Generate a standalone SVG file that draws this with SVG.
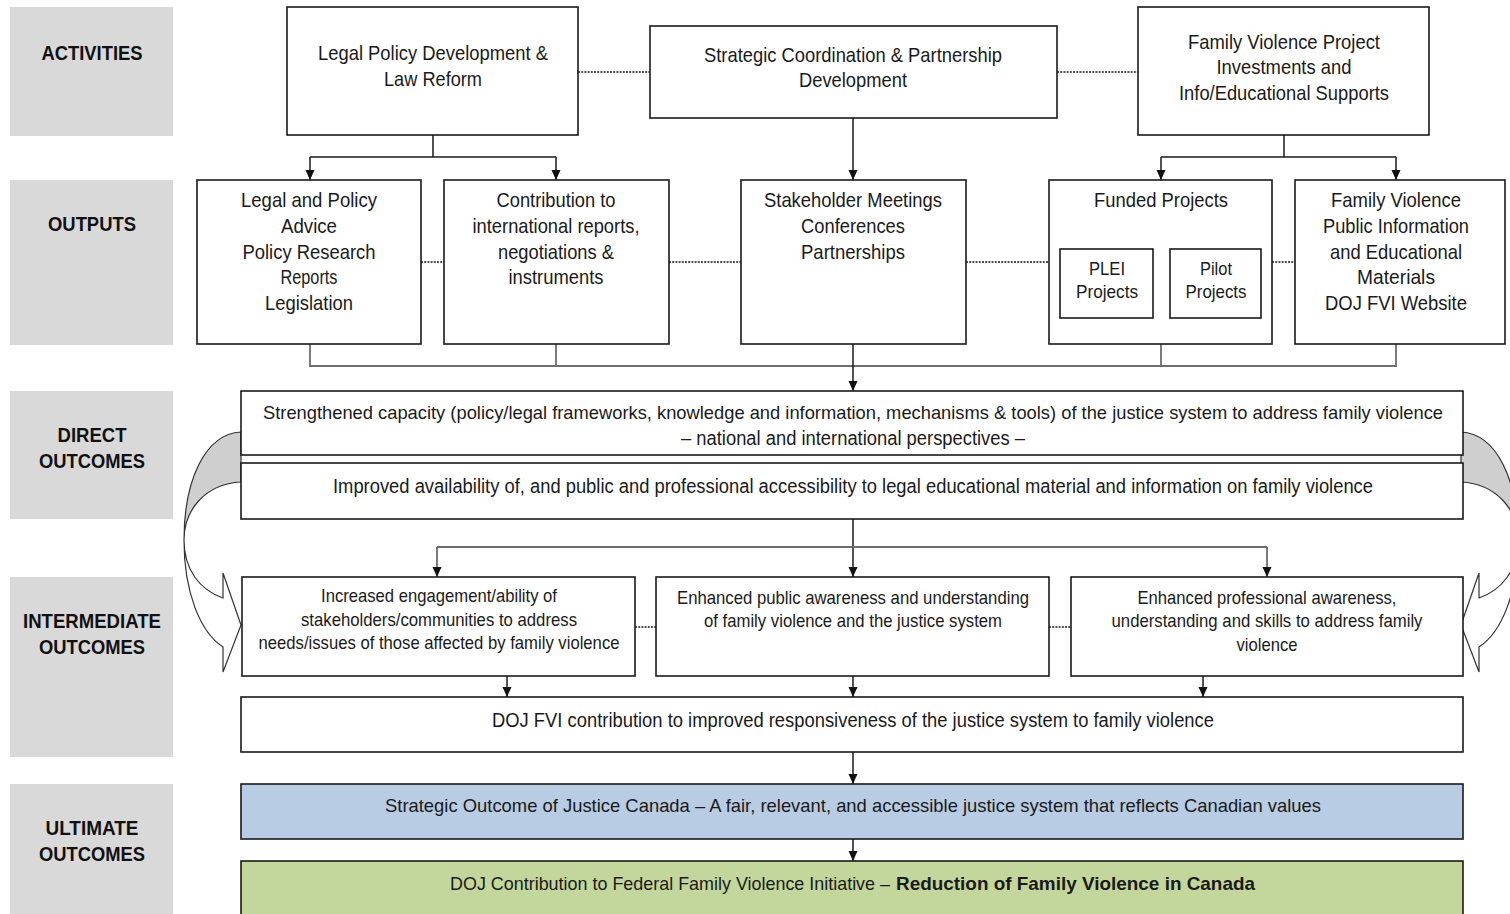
<svg xmlns="http://www.w3.org/2000/svg" width="1510" height="914" viewBox="0 0 1510 914">
<style>
.lbl{fill:#d9d9d9;stroke:none}
.lt{font-family:"Liberation Sans",Arial,sans-serif;font-weight:bold;font-size:21px;fill:#111;text-anchor:middle}
.box{fill:#fff;stroke:#1a1a1a;stroke-width:1.6}
.t{font-family:"Liberation Sans",Arial,sans-serif;font-size:21px;fill:#1a1a1a;text-anchor:middle}
.t20{font-size:20px}
.t19{font-size:19px}
.t18{font-size:18.5px}
.ln{fill:none;stroke:#1a1a1a;stroke-width:1.5}
.gl{fill:none;stroke:#6e6e6e;stroke-width:1.8}
.dot{fill:none;stroke:#1a1a1a;stroke-width:1.6;stroke-dasharray:2 1.2}
</style>
<defs>
<marker id="ah" markerUnits="userSpaceOnUse" markerWidth="12" markerHeight="12" viewBox="0 0 12 12" refX="6" refY="11" orient="0">
<path d="M1.5,1 L10.5,1 L6,11 Z" fill="#111"/>
</marker>
</defs>
<rect width="1510" height="914" fill="#fff"/>

<g id="labels">
<rect class="lbl" x="10" y="7" width="163" height="129"/>
<text class="lt" x="92" y="60" textLength="101" lengthAdjust="spacingAndGlyphs">ACTIVITIES</text>
<rect class="lbl" x="10" y="180" width="163" height="165"/>
<text class="lt" x="92" y="231" textLength="88" lengthAdjust="spacingAndGlyphs">OUTPUTS</text>
<rect class="lbl" x="10" y="391" width="163" height="128"/>
<text class="lt" x="92" y="442" textLength="69" lengthAdjust="spacingAndGlyphs">DIRECT</text>
<text class="lt" x="92" y="468" textLength="106" lengthAdjust="spacingAndGlyphs">OUTCOMES</text>
<rect class="lbl" x="10" y="577" width="163" height="180"/>
<text class="lt" x="92" y="628" textLength="138" lengthAdjust="spacingAndGlyphs">INTERMEDIATE</text>
<text class="lt" x="92" y="654" textLength="106" lengthAdjust="spacingAndGlyphs">OUTCOMES</text>
<rect class="lbl" x="10" y="784" width="163" height="130"/>
<text class="lt" x="92" y="835" textLength="93" lengthAdjust="spacingAndGlyphs">ULTIMATE</text>
<text class="lt" x="92" y="861" textLength="106" lengthAdjust="spacingAndGlyphs">OUTCOMES</text>
</g>

<g id="connectors">
<path class="dot" d="M578,72 H650 M1057,72 H1138"/>
<path class="ln" d="M433,135 V157 M310,157 H556"/>
<path class="ln" d="M310,157 V180" marker-end="url(#ah)"/>
<path class="ln" d="M556,157 V180" marker-end="url(#ah)"/>
<path class="ln" d="M853,118 V180" marker-end="url(#ah)"/>
<path class="ln" d="M1284,135 V157 M1161,157 H1396"/>
<path class="ln" d="M1161,157 V180" marker-end="url(#ah)"/>
<path class="ln" d="M1396,157 V180" marker-end="url(#ah)"/>
<path class="dot" d="M421,262 H444 M669,262 H741 M966,262 H1049 M1272,262 H1295"/>
<path class="ln" d="M1115,216 L1107,249 M1204,216 L1214,249"/>
<path class="gl" d="M310,344 V366 H1396 V344 M556,344 V366 M1161,344 V366"/>
<path class="ln" d="M853,344 V391" stroke-width="2" marker-end="url(#ah)"/>
<path class="ln" d="M853,519 V577" stroke-width="2" marker-end="url(#ah)"/>
<path class="gl" d="M437,547 H1267"/>
<path class="gl" d="M437,547 V577" marker-end="url(#ah)"/>
<path class="gl" d="M1267,547 V577" marker-end="url(#ah)"/>
<path class="dot" d="M635,627 H656 M1049,627 H1071"/>
<path class="ln" d="M507,676 V697" marker-end="url(#ah)"/>
<path class="ln" d="M853,676 V697" marker-end="url(#ah)"/>
<path class="ln" d="M1203,676 V697" marker-end="url(#ah)"/>
<path class="ln" d="M853,752 V784" marker-end="url(#ah)"/>
<path class="ln" d="M853,839 V861" marker-end="url(#ah)"/>
<g id="curve-left">
<path d="M241,432 C205,434 184,480 184,540 C184,510 205,484 241,482 Z" fill="#cfcfcf" stroke="#333" stroke-width="1.2"/>
<path d="M184,540 C184,570 200,590 223,598 L223,573 L241,625 L223,672 L223,647 C200,632 184,592 184,540 Z" fill="#fff" stroke="#333" stroke-width="1.2"/>
</g>
<g id="curve-right" transform="translate(1702,0) scale(-1,1)">
<path d="M241,432 C205,434 184,480 184,540 C184,510 205,484 241,482 Z" fill="#cfcfcf" stroke="#333" stroke-width="1.2"/>
<path d="M184,540 C184,570 200,590 223,598 L223,573 L241,625 L223,672 L223,647 C200,632 184,592 184,540 Z" fill="#fff" stroke="#333" stroke-width="1.2"/>
</g>
</g>

<g id="act-legal">
<rect class="box" x="287" y="7" width="291" height="128"/>
<text class="t" x="433" y="60" textLength="230" lengthAdjust="spacingAndGlyphs">Legal Policy Development &amp;</text>
<text class="t" x="433" y="86" textLength="98" lengthAdjust="spacingAndGlyphs">Law Reform</text>
</g>
<g id="act-strategic">
<rect class="box" x="650" y="26" width="407" height="92"/>
<text class="t" x="853" y="62" textLength="298" lengthAdjust="spacingAndGlyphs">Strategic Coordination &amp; Partnership</text>
<text class="t" x="853" y="87" textLength="108" lengthAdjust="spacingAndGlyphs">Development</text>
</g>
<g id="act-fvproject">
<rect class="box" x="1138" y="7" width="291" height="128"/>
<text class="t" x="1284" y="49" textLength="192" lengthAdjust="spacingAndGlyphs">Family Violence Project</text>
<text class="t" x="1284" y="74" textLength="135" lengthAdjust="spacingAndGlyphs">Investments and</text>
<text class="t" x="1284" y="100" textLength="210" lengthAdjust="spacingAndGlyphs">Info/Educational Supports</text>
</g>

<g id="out-legal">
<rect class="box" x="197" y="180" width="224" height="164"/>
<text class="t" x="309" y="207" textLength="136" lengthAdjust="spacingAndGlyphs">Legal and Policy</text>
<text class="t" x="309" y="233" textLength="56" lengthAdjust="spacingAndGlyphs">Advice</text>
<text class="t" x="309" y="259" textLength="133" lengthAdjust="spacingAndGlyphs">Policy Research</text>
<text class="t" x="309" y="284" textLength="57" lengthAdjust="spacingAndGlyphs">Reports</text>
<text class="t" x="309" y="310" textLength="88" lengthAdjust="spacingAndGlyphs">Legislation</text>
</g>
<g id="out-contribution">
<rect class="box" x="444" y="180" width="225" height="164"/>
<text class="t" x="556" y="207" textLength="119" lengthAdjust="spacingAndGlyphs">Contribution to</text>
<text class="t" x="556" y="233" textLength="167" lengthAdjust="spacingAndGlyphs">international reports,</text>
<text class="t" x="556" y="259" textLength="116" lengthAdjust="spacingAndGlyphs">negotiations &amp;</text>
<text class="t" x="556" y="284" textLength="95" lengthAdjust="spacingAndGlyphs">instruments</text>
</g>
<g id="out-stakeholder">
<rect class="box" x="741" y="180" width="225" height="164"/>
<text class="t" x="853" y="207" textLength="178" lengthAdjust="spacingAndGlyphs">Stakeholder Meetings</text>
<text class="t" x="853" y="233" textLength="104" lengthAdjust="spacingAndGlyphs">Conferences</text>
<text class="t" x="853" y="259" textLength="104" lengthAdjust="spacingAndGlyphs">Partnerships</text>
</g>
<g id="out-funded">
<rect class="box" x="1049" y="180" width="223" height="164"/>
<text class="t" x="1161" y="207" textLength="134" lengthAdjust="spacingAndGlyphs">Funded Projects</text>
<g id="out-plei">
<rect class="box" x="1060" y="249" width="93" height="69"/>
<text class="t t19" x="1107" y="275" textLength="36" lengthAdjust="spacingAndGlyphs">PLEI</text>
<text class="t t19" x="1107" y="298" textLength="62" lengthAdjust="spacingAndGlyphs">Projects</text>
</g>
<g id="out-pilot">
<rect class="box" x="1170" y="249" width="91" height="69"/>
<text class="t t19" x="1216" y="275" textLength="32" lengthAdjust="spacingAndGlyphs">Pilot</text>
<text class="t t19" x="1216" y="298" textLength="61" lengthAdjust="spacingAndGlyphs">Projects</text>
</g>
</g>
<g id="out-public-info">
<rect class="box" x="1295" y="180" width="210" height="164"/>
<text class="t" x="1396" y="207" textLength="130" lengthAdjust="spacingAndGlyphs">Family Violence</text>
<text class="t" x="1396" y="233" textLength="146" lengthAdjust="spacingAndGlyphs">Public Information</text>
<text class="t" x="1396" y="259" textLength="132" lengthAdjust="spacingAndGlyphs">and Educational</text>
<text class="t" x="1396" y="284" textLength="78" lengthAdjust="spacingAndGlyphs">Materials</text>
<text class="t" x="1396" y="310" textLength="142" lengthAdjust="spacingAndGlyphs">DOJ FVI Website</text>
</g>

<g id="direct-capacity">
<rect class="box" x="241" y="391" width="1222" height="64"/>
<text class="t" style="font-size:18.5px" x="853" y="419" textLength="1180" lengthAdjust="spacingAndGlyphs">Strengthened capacity (policy/legal frameworks, knowledge and information, mechanisms &amp; tools) of the justice system to address family violence</text>
<text class="t t20" x="853" y="445" textLength="344" lengthAdjust="spacingAndGlyphs">– national and international perspectives –</text>
</g>
<g id="direct-availability">
<rect class="box" x="241" y="463" width="1222" height="56"/>
<text class="t t20" x="853" y="493" textLength="1040" lengthAdjust="spacingAndGlyphs">Improved availability of, and public and professional accessibility to legal educational material and information on family violence</text>
</g>

<g id="int-engagement">
<rect class="box" x="242" y="577" width="393" height="99"/>
<text class="t t18" x="439" y="602" textLength="236" lengthAdjust="spacingAndGlyphs">Increased engagement/ability of</text>
<text class="t t18" x="439" y="626" textLength="276" lengthAdjust="spacingAndGlyphs">stakeholders/communities to address</text>
<text class="t t18" x="439" y="649" textLength="361" lengthAdjust="spacingAndGlyphs">needs/issues of those affected by family violence</text>
</g>
<g id="int-public">
<rect class="box" x="656" y="577" width="393" height="99"/>
<text class="t t18" x="853" y="604" textLength="352" lengthAdjust="spacingAndGlyphs">Enhanced public awareness and understanding</text>
<text class="t t18" x="853" y="627" textLength="298" lengthAdjust="spacingAndGlyphs">of family violence and the justice system</text>
</g>
<g id="int-professional">
<rect class="box" x="1071" y="577" width="392" height="99"/>
<text class="t t18" x="1267" y="604" textLength="259" lengthAdjust="spacingAndGlyphs">Enhanced professional awareness,</text>
<text class="t t18" x="1267" y="627" textLength="311" lengthAdjust="spacingAndGlyphs">understanding and skills to address family</text>
<text class="t t18" x="1267" y="651" textLength="61" lengthAdjust="spacingAndGlyphs">violence</text>
</g>

<g id="int-responsiveness">
<rect class="box" x="241" y="697" width="1222" height="55"/>
<text class="t t20" x="853" y="727" textLength="722" lengthAdjust="spacingAndGlyphs">DOJ FVI contribution to improved responsiveness of the justice system to family violence</text>
</g>

<g id="ult-strategic">
<rect class="box" x="241" y="784" width="1222" height="55" style="fill:#b8cce4"/>
<text class="t t19" x="853" y="812" textLength="936" lengthAdjust="spacingAndGlyphs">Strategic Outcome of Justice Canada – A fair, relevant, and accessible justice system that reflects Canadian values</text>
</g>
<g id="ult-reduction">
<rect class="box" x="241" y="861" width="1222" height="60" style="fill:#c3d69b"/>
<text class="t t19" x="450" y="890" style="text-anchor:start" textLength="440" lengthAdjust="spacingAndGlyphs">DOJ Contribution to Federal Family Violence Initiative –</text>
<text class="t t19" x="896" y="890" style="text-anchor:start;font-weight:bold" textLength="359" lengthAdjust="spacingAndGlyphs">Reduction of Family Violence in Canada</text>
</g>
</svg>
